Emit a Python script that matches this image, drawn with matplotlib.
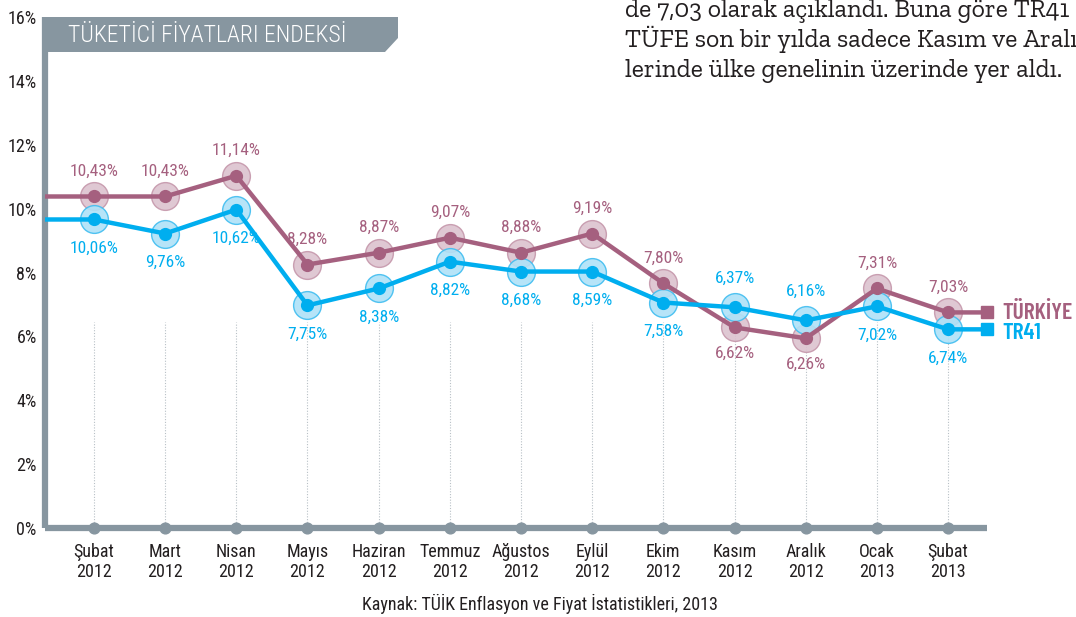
import matplotlib
matplotlib.use("Agg")
import matplotlib.pyplot as plt
from matplotlib.patches import Polygon

# --- data -----------------------------------------------------------------
months = ["Şubat\n2012", "Mart\n2012", "Nisan\n2012", "Mayıs\n2012", "Haziran\n2012",
          "Temmuz\n2012", "Ağustos\n2012", "Eylül\n2012", "Ekim\n2012", "Kasım\n2012",
          "Aralık\n2012", "Ocak\n2013", "Şubat\n2013"]

# point heights as drawn in the original graphic
turkiye = [10.38, 10.38, 11.03, 8.25, 8.62, 9.09, 8.62, 9.22, 7.66, 6.28, 5.94, 7.50, 6.75]
tr41 = [9.66, 9.22, 9.97, 6.97, 7.50, 8.34, 8.03, 8.03, 7.06, 6.91, 6.50, 6.94, 6.22]

# printed value labels
turkiye_labels = ["10,43%", "10,43%", "11,14%", "8,28%", "8,87%", "9,07%", "8,88%",
                  "9,19%", "7,80%", "6,62%", "6,26%", "7,31%", "7,03%"]
tr41_labels = ["10,06%", "9,76%", "10,62%", "7,75%", "8,38%", "8,82%", "8,68%",
               "8,59%", "7,58%", "6,37%", "6,16%", "7,02%", "6,74%"]

yticks = [0, 2, 4, 6, 8, 10, 12, 14, 16]

title = "TÜKETİCİ FİYATLARI ENDEKSİ"
source = "Kaynak: TÜİK Enflasyon ve Fiyat İstatistikleri, 2013"
body_text = ["de 7,03 olarak açıklandı. Buna göre TR41",
             "TÜFE son bir yılda sadece Kasım ve Aralık",
             "lerinde ülke genelinin üzerinde yer aldı."]

# --- style ----------------------------------------------------------------
PURPLE = "#a5607f"
PURPLE_FILL = "#dcc2cf"
BLUE = "#00aeef"
BLUE_FILL = "#aee2f8"
GRAY = "#8796a0"
TEXT = "#231f20"

SANS = ["Roboto Condensed", "DejaVu Sans"]
NARROW = ["Barlow Condensed", "Roboto Condensed", "DejaVu Sans"]
SERIF = ["Zilla Slab", "DejaVu Serif"]
plt.rcParams["font.family"] = SANS

W, H = 1076, 617
fig = plt.figure(figsize=(W / 100, H / 100), dpi=100)
ax = fig.add_axes([45 / W, 89 / H, (987 - 45) / W, 511 / H])

x = list(range(len(months)))
xmin, xmax = -0.688, 12.547
ax.set_xlim(xmin, xmax)
ax.set_ylim(0, 16)

for s in ("top", "right"):
    ax.spines[s].set_visible(False)
for s in ("left", "bottom"):
    ax.spines[s].set_color(GRAY)
    ax.spines[s].set_linewidth(4.5)
    ax.spines[s].set_capstyle("butt")

ax.set_yticks(yticks)
ax.set_yticklabels([f"{v}%" for v in yticks], fontsize=13, color=TEXT)
ax.set_xticks(x)
ax.set_xticklabels(months, fontsize=13, color=TEXT, linespacing=1.1)
ax.tick_params(axis="both", length=0)
ax.tick_params(axis="y", pad=6)
ax.tick_params(axis="x", pad=11)

# dotted guides and axis dots
ax.vlines(x, 0, 6.45, colors="#b8c0c6", linestyles=(0, (1, 1.5)), linewidth=0.8, zorder=1)
ax.scatter(x, [0] * len(x), s=60, color=GRAY, zorder=4, clip_on=False)

# halos
ax.plot(x, turkiye, "o", ms=20, mfc=PURPLE_FILL, mec="#c597ab", mew=1, alpha=0.9, zorder=3)
ax.plot(x, tr41, "o", ms=20, mfc=BLUE_FILL, mec="#3fbdf0", mew=1, alpha=0.9, zorder=3)

# lines extended to the axis edges
ax.plot([xmin] + x + [xmax], [turkiye[0]] + turkiye + [turkiye[-1]],
        color=PURPLE, lw=3.2, zorder=5, solid_joinstyle="round")
ax.plot([xmin] + x + [xmax], [tr41[0]] + tr41 + [tr41[-1]],
        color=BLUE, lw=3.2, zorder=5, solid_joinstyle="round")
ax.plot(x, turkiye, "o", ms=8.5, color=PURPLE, zorder=6)
ax.plot(x, tr41, "o", ms=8.5, color=BLUE, zorder=6)

# end squares + series names
ax.plot([xmax], [turkiye[-1]], "s", ms=9, color=PURPLE, clip_on=False, zorder=6)
ax.plot([xmax], [tr41[-1]], "s", ms=9, color=BLUE, clip_on=False, zorder=6)
ax.annotate("TÜRKİYE", (xmax, turkiye[-1]), xytext=(11, 0), textcoords="offset points",
            va="center", ha="left", fontsize=17, fontweight="semibold", color=PURPLE,
            family=NARROW, annotation_clip=False)
ax.annotate("TR41", (xmax, tr41[-1]), xytext=(11, -2.5), textcoords="offset points",
            va="center", ha="left", fontsize=17, fontweight="semibold", color=BLUE,
            family=NARROW, annotation_clip=False)

# value labels: purple above / blue below, swapped where the lines cross
for i in x:
    swap = i in (9, 10)
    up, down = (-19, 21) if swap else (18, -21)
    ax.annotate(turkiye_labels[i], (i, turkiye[i]), xytext=(0, up), textcoords="offset points",
                ha="center", va="center", fontsize=12.5, color=PURPLE)
    ax.annotate(tr41_labels[i], (i, tr41[i]), xytext=(0, down), textcoords="offset points",
                ha="center", va="center", fontsize=12.5, color=BLUE)

# title banner
banner = Polygon([(42, H - 17), (398, H - 17), (398, H - 38), (385, H - 52), (42, H - 52)],
                 closed=True, transform=None, facecolor=GRAY, edgecolor="none", zorder=1)
fig.patches.append(banner)
fig.text(68 / W, 1 - 35 / H, title, fontsize=17, color="white", va="center", ha="left",
         family=SANS, fontweight="light")

fig.text(540 / W, 1 - 604 / H, source, fontsize=13, color=TEXT, ha="center", va="center")

for k, line in enumerate(body_text):
    fig.text(625 / W, 1 - (17 + 30 * k) / H, line, fontsize=18.5, color=TEXT,
             family=SERIF, ha="left", va="baseline")

fig.savefig("out.png", dpi=100)
